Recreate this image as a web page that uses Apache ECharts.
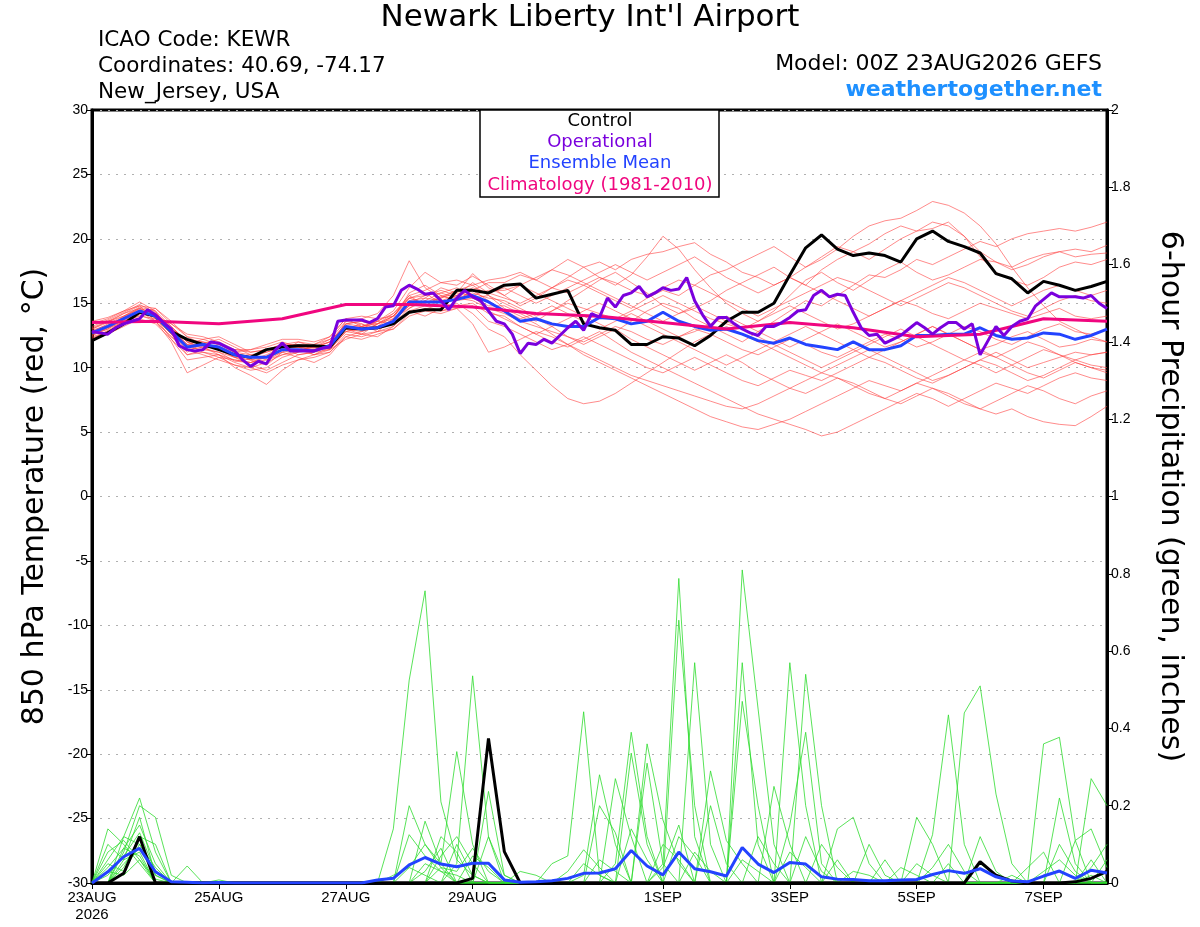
<!DOCTYPE html>
<html>
<head>
<meta charset="utf-8">
<script src="https://cdn.jsdelivr.net/npm/echarts@6/dist/echarts.min.js"></script>
<title>Newark Liberty Int'l Airport</title>
<style>
  html, body, #main { width: 100%; height: 100%; margin: 0; background: #fff; }
</style>
</head>
<body>
<div id="main"></div>
<script>
// forecast hours of the labelled days and their labels
var tickHours = [0, 48, 96, 144, 216, 264, 312, 360];
var tickLabels = ['23AUG\n2026', '25AUG', '27AUG', '29AUG', '1SEP', '3SEP', '5SEP', '7SEP'];

// 6-hourly series (0..384 h)
var tempControl = [12.1,12.7,13.4,14.3,14.0,12.8,12.2,11.8,11.4,11.0, 10.8,11.4,11.6,11.7,11.7,11.6,13.1,13.0,13.1,13.4,
  14.3,14.5,14.5,16.0,16.0,15.8,16.4,16.5,15.4,15.7, 16.0,13.4,13.1,12.9,11.8,11.8,12.4,12.3,11.7,12.5,
  13.6,14.3,14.3,15.0,17.2,19.3,20.3,19.2,18.7,18.9, 18.7,18.2,20.0,20.6,19.8,19.4,18.9,17.3,16.9,15.8, 16.7,16.4,16.0,16.3,16.7];
var tempMean = [12.7,13.2,13.8,14.4,14.0,12.8,11.6,11.8,11.6,11.0, 10.8,10.8,11.4,11.4,11.3,11.7,13.2,13.0,13.1,13.6,
  15.1,15.1,15.1,15.3,15.6,15.1,14.4,13.6,13.8,13.4, 13.2,13.2,13.9,13.8,13.4,13.6,14.3,13.6,13.2,12.9,
  13.0,12.6,12.1,11.9,12.3,11.8,11.6,11.4,12.0,11.4, 11.4,11.7,12.5,12.5,12.6,12.6,13.1,12.5,12.2,12.3, 12.7,12.6,12.2,12.5,13.0];

// operational run is 3-hourly
var tempOper = [12.8,12.7,12.6,13.1,13.4,13.6,13.8,14.5,14.1,13.5, 13.0,11.7,11.4,11.3,11.4,12.0,11.9,11.6,11.3,10.6,
  10.1,10.5,10.3,11.3,11.9,11.3,11.3,11.3,11.3,11.5, 11.6,13.6,13.7,13.7,13.7,13.5,13.8,14.7,14.8,16.0,
  16.4,16.1,15.7,15.8,15.2,14.5,15.4,16.0,15.5,15.2, 14.4,13.6,13.4,12.6,11.1,11.9,11.8,12.2,11.9,12.5,
  13.1,13.6,12.9,14.2,13.9,15.4,14.7,15.6,15.8,16.3, 15.5,15.8,16.2,16.0,16.1,17.0,15.2,14.1,13.2,13.9,
  13.9,13.4,13.0,12.7,12.5,13.2,13.2,13.5,13.9,14.4, 14.5,15.6,16.0,15.5,15.7,15.6,14.3,13.1,12.5,12.6,
  11.9,12.2,12.5,13.0,13.5,13.1,12.6,13.1,13.5,13.5, 13.0,13.4,11.0,12.1,13.2,12.5,13.2,13.6,13.8,14.8,
  15.3,15.8,15.5,15.5,15.5,15.4,15.6,15.0,14.6];

// climatology, daily
var tempClim = [13.5,13.6,13.4,13.8,14.9,14.9,14.7,14.2,14.0,13.5,13.0,13.5,13.1,12.4,12.6,13.8,13.6];

var precipControl = [0,0,0.025,0.12,0,0,0,0,0,0, 0,0,0,0,0,0,0,0,0,0, 0,0,0,0,0.012,0.374,0.081,0,0,0,
  0,0,0,0,0,0,0,0,0,0, 0,0,0,0,0,0,0,0,0,0, 0,0,0,0,0,0,0.055,0.02,0.005,0, 0,0,0.003,0.012,0.03];
var precipMean = [0,0.029,0.068,0.09,0.029,0.003,0.002,0,0.001,0, 0,0,0,0,0,0,0,0,0.008,0.012,
  0.047,0.066,0.049,0.042,0.051,0.051,0.008,0.002,0.003,0.006, 0.012,0.025,0.026,0.037,0.084,0.044,0.021,0.08,0.037,0.029,
  0.018,0.092,0.049,0.027,0.053,0.049,0.016,0.01,0.009,0.006, 0.006,0.008,0.009,0.022,0.032,0.025,0.037,0.016,0.005,0.003,
  0.018,0.031,0.012,0.033,0.026];

// ensemble members, 850 hPa temperature
var tempMembers = [
  [12.5,13.0,13.9,14.6,14.2,13.1,12.0,11.5,11.2,10.5,10.4,10.9,11.6,11.8,11.5,12.0,13.4,13.6,13.2,14.0,15.4,15.8,15.0,15.6,16.2,15.8,
   15.4,15.0,15.6,16.2,16.8,16.4,15.8,15.2,14.6,15.4,16.0,15.6,16.4,17.2,17.6,18.2,18.8,19.4,18.6,17.8,18.4,19.2,20.2,21.0,
   21.4,21.6,22.2,22.9,22.6,22.0,21.0,19.6,17.8,16.2,14.8,13.6,13.0,12.4,12.0],
  [13.0,13.5,14.2,14.8,13.6,12.4,11.2,11.9,12.2,11.6,11.0,10.6,11.0,11.2,11.8,12.2,13.0,12.6,13.4,14.2,15.6,14.8,15.5,16.0,15.4,14.8,
   14.8,14.2,13.6,14.4,15.2,16.0,16.8,17.4,16.6,15.8,14.8,14.2,14.6,15.2,16.0,16.6,17.2,17.8,17.0,16.4,17.6,18.4,19.0,19.6,
   20.4,21.0,20.6,20.8,21.3,20.2,18.6,17.4,16.8,16.4,17.0,17.8,18.2,18.0,18.4],
  [12.2,12.9,13.6,14.0,13.8,13.0,12.2,12.0,11.4,10.8,10.2,9.8,10.4,11.0,11.2,11.4,12.8,13.2,13.6,13.4,14.6,15.4,16.2,15.8,15.6,16.0,
   16.0,16.4,15.8,15.2,14.6,14.0,13.4,12.8,13.6,14.4,15.0,14.6,13.8,13.2,12.6,12.0,12.8,13.6,14.4,15.2,14.8,15.6,16.4,17.2,
   17.0,17.6,18.4,18.0,18.6,19.2,19.8,19.4,20.0,20.4,20.6,20.8,20.6,20.9,21.3],
  [13.4,13.8,14.4,15.1,14.4,12.6,11.0,11.4,11.8,11.2,11.4,11.6,12.0,11.6,11.0,11.6,13.6,13.4,12.8,13.8,15.8,16.4,15.6,15.2,16.0,16.6,
   16.6,17.2,16.8,17.6,18.4,17.8,17.0,16.4,17.2,18.6,20.2,19.2,17.6,16.2,15.0,14.2,13.6,14.4,15.6,16.8,
   17.4,16.6,16.0,16.8,17.6,18.2,17.4,16.8,17.2,17.8,18.4,18.2,17.6,18.0,18.6,19.0,19.2,19.0,19.5],
  [12.6,13.1,13.5,14.2,14.6,13.4,12.4,12.2,11.8,11.2,10.6,10.2,11.2,12.0,11.8,12.4,13.8,13.2,13.6,14.4,16.2,17.4,16.6,16.4,17.1,16.4,
   15.6,14.8,15.4,16.2,17.0,17.8,18.2,17.6,18.4,18.8,19.0,19.4,19.7,18.8,18.2,17.4,17.0,16.4,17.0,17.8,
   18.6,19.4,19.0,18.4,19.2,20.0,20.6,21.3,21.0,20.2,19.0,18.2,17.8,18.4,18.8,19.0,18.6,18.8,18.9],
  [12.8,13.4,14.0,14.5,13.9,12.2,10.6,10.8,11.0,10.4,10.0,9.6,10.2,10.6,10.8,11.2,12.6,12.4,12.8,13.0,14.2,14.6,14.4,14.8,15.0,14.2,
   14.0,13.2,12.6,12.0,11.6,12.2,12.8,12.0,11.2,10.6,10.0,9.4,8.8,8.2,7.6,7.0,6.4,6.0,5.6,5.2,
   4.7,5.0,5.6,6.2,6.8,7.4,8.0,7.6,7.0,7.6,8.2,8.8,8.4,8.0,8.6,9.2,9.6,9.2,9.0],
  [12.4,12.8,13.4,14.1,13.6,12.0,9.6,10.2,10.8,10.6,10.4,10.8,11.2,10.8,10.4,11.0,12.4,12.8,13.4,13.8,14.8,15.0,15.6,15.2,15.4,15.6,
   15.0,14.4,13.8,13.2,12.4,11.8,12.4,13.0,12.2,11.6,11.0,10.4,9.8,10.4,11.0,10.4,9.6,9.0,8.4,8.0,
   8.6,9.2,8.8,8.2,7.6,7.2,7.8,8.4,8.0,7.4,6.8,6.4,6.8,6.2,5.8,5.6,5.5,6.2,7.0],
  [13.0,13.6,14.0,14.6,14.2,13.2,12.0,11.6,11.0,10.0,9.4,8.7,9.8,10.6,11.0,11.4,12.2,12.6,12.4,13.2,14.4,14.0,14.6,15.0,14.2,13.0,
   12.4,11.0,9.8,8.6,7.6,7.2,7.4,8.0,8.8,9.6,10.4,11.2,12.0,12.6,13.2,12.6,12.0,11.4,10.8,10.2,
   9.6,10.2,10.8,11.4,10.8,10.2,9.6,9.0,9.4,10.0,10.6,11.2,10.6,10.0,10.4,10.8,11.2,11.0,11.2],
  [12.9,13.3,13.9,14.3,14.1,12.9,11.8,12.2,12.4,11.8,11.2,11.4,11.8,12.0,11.6,12.0,13.4,13.2,13.0,13.4,15.0,15.6,15.8,15.4,15.8,15.4,
   15.2,14.6,14.0,14.4,15.0,14.6,14.2,13.8,14.4,15.0,15.6,15.0,14.4,13.8,13.4,13.0,13.6,14.2,14.8,14.2,
   13.6,13.0,13.4,14.0,14.6,15.2,14.8,14.2,13.8,14.4,15.0,14.6,14.2,13.8,14.2,14.6,14.0,13.8,14.0],
  [12.3,12.8,13.6,14.4,14.0,12.6,11.4,11.6,11.6,11.2,11.0,11.2,11.6,11.0,11.2,11.8,13.0,12.8,13.2,13.6,14.8,15.2,14.8,15.4,15.2,14.6,
   14.2,13.6,13.2,12.8,12.4,12.0,12.6,13.2,12.8,12.2,11.8,12.4,13.0,12.6,12.0,11.4,11.0,11.6,12.2,11.8,
   11.2,10.8,11.4,12.0,12.6,12.2,11.6,12.0,12.6,13.2,12.8,12.2,11.8,12.4,13.0,13.4,12.8,12.6,13.0],
  [13.2,13.7,14.3,14.9,14.3,13.0,11.8,11.2,10.8,10.2,10.0,10.4,11.0,11.4,11.6,11.4,12.8,13.0,13.6,14.2,15.4,15.0,15.4,16.0,16.4,15.6,
   14.6,14.0,13.4,12.6,11.8,11.0,10.4,9.8,9.2,8.6,8.0,7.4,6.8,6.2,5.8,5.4,5.2,5.6,6.0,6.6,
   7.2,7.8,8.4,9.0,8.6,8.2,8.8,9.4,10.0,10.6,11.2,10.8,10.2,9.6,9.2,9.8,10.4,10.0,9.8],
  [12.6,13.0,13.7,14.2,14.0,13.4,12.6,12.4,12.0,11.4,11.4,11.8,12.2,12.2,12.0,12.4,13.8,14.0,13.8,14.0,15.6,16.0,16.6,16.8,16.4,16.8,
   17.0,17.4,16.8,16.2,15.8,16.4,17.0,16.6,16.0,15.6,16.2,16.8,16.4,15.8,15.2,14.6,14.0,14.6,15.2,15.8,
   16.4,17.0,16.6,16.0,15.4,14.8,15.4,16.0,16.6,16.2,15.6,15.0,14.4,14.0,14.6,15.2,15.6,15.2,15.0],
  [12.1,12.6,13.2,13.8,13.4,12.2,11.0,11.2,11.0,10.6,10.4,10.6,11.2,11.4,11.0,11.2,12.4,12.2,12.6,13.0,14.0,14.4,14.2,14.6,14.8,13.6,
   13.2,12.6,12.0,11.4,11.8,12.4,11.8,11.2,10.6,10.0,9.6,10.2,10.8,10.2,9.6,9.0,8.6,9.2,9.8,9.4,
   9.0,9.6,10.2,10.8,10.4,9.8,9.2,8.8,9.4,10.0,10.6,10.2,9.6,9.0,9.4,10.0,10.6,10.2,10.0],
  [13.6,13.9,14.4,14.8,14.6,13.6,12.4,11.8,11.4,10.8,10.6,11.0,11.6,11.6,11.4,11.8,13.4,13.6,13.4,14.0,15.2,15.4,15.2,15.6,16.0,15.2,
   14.4,13.8,14.2,14.8,14.2,13.6,13.0,13.6,14.2,13.6,13.0,12.4,12.8,13.4,14.0,13.4,12.8,12.2,11.6,12.2,
   12.8,13.4,12.8,12.2,11.6,12.0,12.6,13.2,12.6,12.0,11.4,11.8,12.4,12.8,12.2,11.6,11.8,12.2,12.0],
  [12.8,13.2,13.8,14.4,13.6,12.4,11.4,11.0,10.6,10.2,9.8,10.0,10.8,11.2,11.4,11.6,12.8,12.6,12.8,13.2,14.4,14.8,14.4,14.6,13.4,11.2,
   11.6,12.2,12.8,12.4,11.8,11.2,10.6,10.0,9.4,9.0,8.6,8.2,7.8,7.4,7.0,6.8,7.2,7.8,8.4,9.0,
   9.6,9.2,8.6,8.0,7.6,8.2,8.8,8.4,7.8,7.2,6.8,7.4,8.0,8.6,8.2,7.6,7.2,7.8,8.2],
  [12.5,13.1,14.0,14.7,14.4,13.2,12.0,12.0,11.8,11.4,11.2,11.4,11.8,11.8,11.6,12.2,13.6,13.8,14.2,15.6,18.3,16.2,15.4,15.8,17.3,16.2,
   15.6,16.4,17.0,17.6,17.2,16.6,16.0,15.4,14.8,14.2,13.6,14.2,14.8,14.2,13.6,13.0,12.4,11.8,11.2,10.6,
   10.0,10.6,11.2,11.8,12.4,13.0,12.4,11.8,11.2,10.6,10.2,9.6,10.2,10.8,11.4,11.0,10.4,10.0,9.6],
  [13.1,13.6,14.2,14.6,13.8,12.6,11.6,11.4,11.2,10.8,10.6,10.8,11.4,11.6,11.4,11.8,13.0,13.4,13.0,13.8,14.6,15.2,15.8,16.2,15.6,14.4,
   13.8,13.2,12.6,13.2,13.8,14.4,15.0,14.4,13.8,13.2,12.6,12.0,11.4,10.8,10.2,10.8,11.4,12.0,12.6,13.2,
   12.6,12.0,11.4,10.8,11.4,12.0,12.6,13.2,12.6,12.0,11.4,10.8,11.4,12.0,11.6,11.0,10.6,11.0,11.2],
  [12.7,13.2,13.8,14.3,14.2,13.0,11.8,11.8,11.6,11.0,10.8,11.2,11.6,11.6,11.6,12.0,13.2,13.2,13.4,14.0,15.4,15.6,16.0,15.6,16.6,15.8,
   16.2,15.6,15.0,15.6,16.2,16.8,17.4,18.0,17.4,16.8,17.4,18.0,18.6,17.8,17.0,16.4,15.8,16.4,17.0,16.4,
   15.8,15.2,14.6,14.0,14.6,15.2,15.8,16.4,17.0,16.6,16.0,15.4,14.8,15.4,16.0,16.4,16.0,15.6,16.0]
];

// ensemble members, 6-hour precipitation (inches)
var precipMembers = [
  [0,.06,.12,.22,.08,0,0,0,0,0, 0,0,0,0,0,0,0,0,0,.14, .525,.756,.21,.06,.02,0,0,0,0,0, 0,0,0,.05,.39,.12,0,0,0,0, 0,0,0,0,.57,.2,0,0,0,0, 0,0,0,0,0,.44,.51,.23,.05,0, 0,0,0,.02,0],
  [0,.14,.1,.05,0,0,0,0,0,0, 0,0,0,0,0,0,0,0,0,0, 0,.16,.05,.34,.1,0,0,0,0,0, 0,0,0,0,0,0,.05,.788,.12,0, 0,.47,.2,0,0,0,0,0,0,0, 0,0,0,.125,.435,.1,0,0,0,0, 0,.22,.05,0,0],
  [0,0,.08,.2,.17,.02,0,0,0,0, 0,0,0,0,0,0,0,0,0,0, 0,0,0,.05,.536,.12,0,0,0,0, 0,.02,.28,.1,0,0,0,0,.57,.1, 0,0,0,0,0,.54,.2,0,0,0, 0,0,0,0,0,0,0,0,0,0, .36,.377,.11,0,0],
  [0,.04,.09,.15,.05,0,0,0,0,0, 0,0,0,0,0,0,0,0,0,0, .2,.1,.05,0,0,.237,.02,0,0,0, 0,0,0,0,.336,.1,0,0,0,0, 0,.81,.45,.1,0,0,0,0,0,0, .06,0,.17,.1,0,0,0,0,0,0, 0,0,0,.27,.2],
  [0,0,.12,.1,.04,0,.044,0,0,0, 0,0,0,0,0,0,0,0,0,0, 0,0,.12,.08,0,0,0,0,0,.05, .07,.443,.02,0,0,0,0,.68,.2,0, 0,0,0,0,.15,.39,.05,0,0,0, 0,0,0,0,0,0,.12,.03,0,0, 0,0,.11,.14,.04],
  [0,.02,.07,.13,.03,0,0,0,0,0, 0,0,0,0,0,0,0,0,0,0, .125,.07,.03,0,0,0,0,0,0,0, 0,0,0,0,0,.36,.163,.05,0,0, 0,.57,.1,0,0,0,0,0,0,.1, .02,0,0,0,0,0,0,0,0,.04, .08,0,0,0,0],
  [0,0,.05,.09,.02,0,0,0,.008,0, 0,0,0,0,0,0,0,0,0,0, 0,0,0,0,.07,.04,0,0,0,0, 0,0,0,.27,.12,0,0,0,0,.29, .11,.05,0,0,0,0,0,.14,.17,.05, 0,0,0,0,0,0,0,0,0,0, 0,0,0,0,.06],
  [0,.08,.11,.06,0,0,0,0,0,0, 0,0,0,0,0,0,0,0,0,0, 0,.05,.03,.02,0,0,0,0,0,0, 0,0,.2,.13,0,.31,.05,0,0,0, 0,0,0,.25,.1,0,0,0,0,0, 0,0,.05,.02,0,0,0,0,0,0, 0,.1,.03,0,0],
  [0,0,.04,.12,.1,0,0,0,0,0, 0,0,0,0,0,0,0,0,0,0, 0,0,.07,.12,.05,0,0,0,0,0, .03,.086,.04,0,0,0,0,0,0,.2, .05,0,0,0,0,0,.1,.04,0,0, 0,0,0,0,0,0,.05,.02,0,0, 0,0,0,0,0],
  [0,.1,.06,.17,.02,0,0,0,0,0, 0,0,0,0,0,0,0,0,0,.02, .04,.1,.04,0,0,0,0,.03,.02,0, 0,0,0,0,0,0,.1,.06,0,0, 0,0,.12,.05,0,0,0,0,0,0, 0,0,0,.04,.1,.03,0,0,0,0, 0,0,0,.06,0],
  [0,0,.09,.07,0,0,0,0,0,0, 0,0,0,0,0,0,0,0,0,0, 0,0,.04,.03,.09,.03,0,0,0,0, 0,0,0,0,.14,.06,0,0,0,0, 0,0,0,0,.08,.04,0,0,0,0, 0,.04,.02,0,0,0,0,0,0,0, .03,.06,.02,0,0],
  [0,.05,.03,.1,.03,0,0,0,0,0, 0,0,0,0,0,0,0,0,0,0, 0,.03,.09,0,0,.12,.02,0,0,0, 0,0,0,0,0,0,0,.12,.07,0, 0,.06,.03,0,0,0,0,0,.03,.02, 0,0,0,0,0,0,0,0,.02,0, 0,0,0,0,0],
  [0,0,.06,.08,0,0,0,0,0,0, 0,0,0,0,0,0,0,0,0,0, 0,0,0,.1,.02,0,0,0,0,0, 0,0,.06,.03,0,0,.04,.15,0,0, 0,0,0,0,0,.12,.03,0,0,0, 0,0,0,0,.05,0,0,0,0,0, 0,0,0,0,0],
  [0,.03,.02,.06,.01,0,0,0,0,0, 0,0,0,0,0,0,0,0,0,0, .04,.02,0,0,0,0,0,0,0,0, 0,.05,.02,0,0,0,0,0,.08,.03, 0,0,0,0,0,0,0,.06,0,0, 0,0,0,0,0,0,0,0,0,0, 0,0,0,.04,.1]
];

var FONT = 'Liberation Sans';
var WIDE = 'DejaVu Sans';

// values -> [hour, value]
function withHours(arr, step) {
  return arr.map(function (v, i) { return [i * step, v]; });
}

function thinLine(data, axis, color) {
  return {
    type: 'line', yAxisIndex: axis, data: data, symbol: 'none', silent: true,
    lineStyle: { color: color, width: 0.8 }
  };
}
function thickLine(data, axis, color) {
  return {
    type: 'line', yAxisIndex: axis, data: data, symbol: 'none', silent: true,
    lineStyle: { color: color, width: 3 }
  };
}

function label(x, y, text, size, color, align, bold) {
  return {
    type: 'text', x: x, y: y, z: 101,
    style: { text: text, fontSize: size, fontFamily: WIDE, fontWeight: bold ? 'bold' : 'normal',
      fill: color, textAlign: align, textVerticalAlign: 'middle' }
  };
}

var series = [];
tempMembers.forEach(function (m) { series.push(thinLine(withHours(m, 6), 0, 'rgba(255,60,60,0.75)')); });
precipMembers.forEach(function (m) { series.push(thinLine(withHours(m, 6), 1, '#2fdc2f')); });
series.push(thickLine(withHours(tempControl, 6), 0, '#000'));
series.push(thickLine(withHours(precipControl, 6), 1, '#000'));
series.push(thickLine(withHours(tempMean, 6), 0, '#2343ff'));
series.push(thickLine(withHours(precipMean, 6), 1, '#2343ff'));
series.push(thickLine(withHours(tempClim, 24), 0, '#f0067f'));
series.push(thickLine(withHours(tempOper, 3), 0, '#7a00dd'));

var myChart = echarts.init(document.getElementById('main'));

var option = {
  animation: false,
  textStyle: { fontFamily: FONT },
  grid: { left: 92, right: 93, top: 110, bottom: 44, show: true, borderColor: '#000', borderWidth: 3, backgroundColor: '#fff' },
  xAxis: {
    type: 'value', min: 0, max: 384,
    axisLine: { show: true, onZero: false, lineStyle: { color: '#000', width: 3 } },
    axisTick: { show: true, customValues: tickHours, length: 6, lineStyle: { color: '#000', width: 1 } },
    axisLabel: {
      customValues: tickHours, color: '#000', fontSize: 15, margin: 6, lineHeight: 17,
      formatter: function (v) { var k = tickHours.indexOf(v); return k < 0 ? '' : tickLabels[k]; }
    },
    splitLine: { show: false }
  },
  yAxis: [{
    type: 'value', min: -30, max: 30, interval: 5, position: 'left',
    axisLine: { show: true, lineStyle: { color: '#000', width: 3 } },
    axisTick: { show: true, length: 6, lineStyle: { color: '#000', width: 1 } },
    axisLabel: { color: '#000', fontSize: 14, margin: 4 },
    splitLine: { show: true, lineStyle: { color: '#b0b0b0', width: 1, type: [2, 6] } },
    name: '850 hPa Temperature (red, °C)', nameLocation: 'middle', nameRotate: 90, nameGap: 42,
    nameTextStyle: { fontSize: 30, color: '#000', fontFamily: WIDE }
  }, {
    type: 'value', min: 0, max: 2, interval: 0.2, position: 'right',
    axisLine: { show: true, lineStyle: { color: '#000', width: 3 } },
    axisTick: { show: true, length: 6, lineStyle: { color: '#000', width: 1 } },
    axisLabel: { color: '#000', fontSize: 14, margin: 4, formatter: function (v) { return String(Math.round(v * 10) / 10); } },
    splitLine: { show: false },
    name: '6-hour Precipitation (green, inches)', nameLocation: 'middle', nameRotate: -90, nameGap: 48,
    nameTextStyle: { fontSize: 30, color: '#000', fontFamily: WIDE }
  }],
  graphic: [
    label(590, 18, "Newark Liberty Int'l Airport", 31, '#000', 'center'),
    label(98, 40, 'ICAO Code: KEWR', 21.5, '#000', 'left'),
    label(98, 66, 'Coordinates: 40.69, -74.17', 21.5, '#000', 'left'),
    label(98, 92, 'New_Jersey, USA', 21.5, '#000', 'left'),
    label(1102, 64, 'Model: 00Z 23AUG2026 GEFS', 22, '#000', 'right'),
    label(1102, 90, 'weathertogether.net', 22, '#1e90ff', 'right', true),
    { type: 'rect', z: 100, shape: { x: 480, y: 110, width: 239, height: 87 }, style: { fill: '#fff', stroke: '#000', lineWidth: 1.5 } },
    label(600, 121, 'Control', 18, '#000', 'center'),
    label(600, 142, 'Operational', 18, '#7a00dd', 'center'),
    label(600, 163, 'Ensemble Mean', 18, '#2343ff', 'center'),
    label(600, 185, 'Climatology (1981-2010)', 18, '#f0067f', 'center')
  ],
  series: series
};

myChart.setOption(option);
window.onresize = function () { myChart.resize(); };
</script>
</body>
</html>
